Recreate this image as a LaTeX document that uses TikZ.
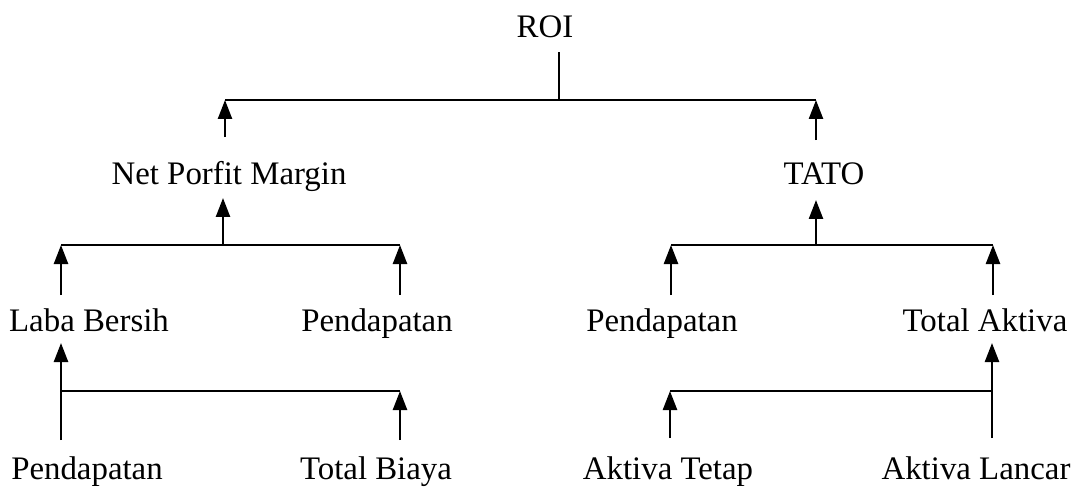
\documentclass[tikz,border=0pt]{standalone}
\usepackage{fontspec}
\setmainfont{Liberation Serif}
\usetikzlibrary{arrows.meta}

\tikzset{
  lbl/.style={anchor=base, inner sep=0pt, font=\fontsize{18.7}{22}\selectfont},
  link/.style={line width=1.4pt},
  uparrow/.style={line width=1.4pt, -{Triangle[length=0.38cm, width=0.28cm]}},
}

\begin{document}
\begin{tikzpicture}[x=0.02cm, y=-0.02cm]
    \useasboundingbox (0,0) rectangle (1076,487);

    % Labels
    \node[lbl] (roi) at (545,37) {ROI};
    \node[lbl] (npm) at (229,184) {Net Porfit Margin};
    \node[lbl] (tato) at (824,184) {TATO};
    \node[lbl] (laba) at (89,331) {Laba Bersih};
    \node[lbl] (pdpA) at (377,331) {Pendapatan};
    \node[lbl] (pdpB) at (662,331) {Pendapatan};
    \node[lbl] (totakt) at (985,331) {Total Aktiva};
    \node[lbl] (pdpC) at (87,479) {Pendapatan};
    \node[lbl] (biaya) at (376,479) {Total Biaya};
    \node[lbl] (tetap) at (668,479) {Aktiva Tetap};
    \node[lbl] (lancar) at (976,479) {Aktiva Lancar};

    % Junction points
    \coordinate (roitop) at (559,52);
    \coordinate (roibar) at (559,100);
    \coordinate (barL) at (225,100);
    \coordinate (barR) at (816,100);
    \coordinate (npmup) at (225,137);
    \coordinate (tatoup) at (816,140);

    \coordinate (npmdown) at (223,198);
    \coordinate (npmjoin) at (223,245);
    \coordinate (labaup) at (61,295);
    \coordinate (labajoin) at (61,245);
    \coordinate (pdpAup) at (400,295);
    \coordinate (pdpAjoin) at (400,245);

    \coordinate (tatodown) at (816,200);
    \coordinate (tatojoin) at (816,245);
    \coordinate (pdpBup) at (671,295);
    \coordinate (pdpBjoin) at (671,245);
    \coordinate (totaktup) at (993,295);
    \coordinate (totaktjoin) at (993,245);

    \coordinate (labadown) at (61,343);
    \coordinate (pdpCjoin) at (61,391);
    \coordinate (pdpCup) at (61,440);
    \coordinate (biayajoin) at (400,391);
    \coordinate (biayaup) at (400,440);

    \coordinate (totaktdown) at (992,343);
    \coordinate (lancarjoin) at (992,391);
    \coordinate (lancarup) at (992,438);
    \coordinate (tetapjoin) at (670,391);
    \coordinate (tetapup) at (670,438);

    % ROI level
    \draw[link] (roitop) -- (roibar);
    \draw[link] (barL) -- (barR);
    \draw[uparrow] (npmup) -- (barL);
    \draw[uparrow] (tatoup) -- (barR);

    % Net Porfit Margin branch
    \draw[uparrow] (npmjoin) -- (npmdown);
    \draw[link] (labajoin) -- (pdpAjoin);
    \draw[uparrow] (labaup) -- (labajoin);
    \draw[uparrow] (pdpAup) -- (pdpAjoin);

    % TATO branch
    \draw[uparrow] (tatojoin) -- (tatodown);
    \draw[link] (pdpBjoin) -- (totaktjoin);
    \draw[uparrow] (pdpBup) -- (pdpBjoin);
    \draw[uparrow] (totaktup) -- (totaktjoin);

    % Laba Bersih
    \draw[uparrow] (pdpCup) -- (labadown);
    \draw[link] (pdpCjoin) -- (biayajoin);
    \draw[uparrow] (biayaup) -- (biayajoin);

    % Total Aktiva
    \draw[uparrow] (lancarup) -- (totaktdown);
    \draw[link] (tetapjoin) -- (lancarjoin);
    \draw[uparrow] (tetapup) -- (tetapjoin);
\end{tikzpicture}
\end{document}
